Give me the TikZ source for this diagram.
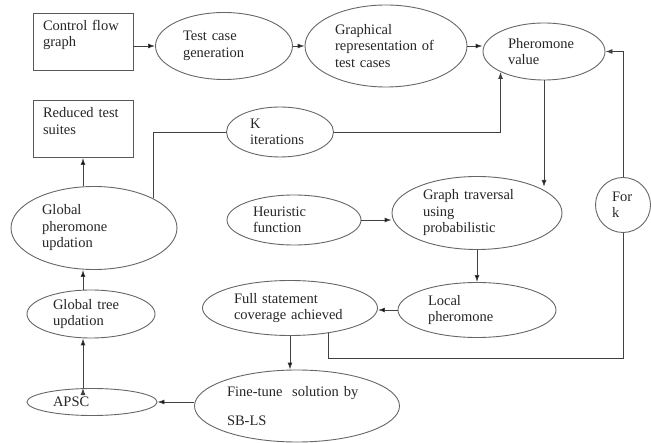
\documentclass[tikz,border=0pt]{standalone}
\usepackage{fontspec}
\setmainfont{Liberation Serif}
\usepackage{tikz}
\usetikzlibrary{arrows.meta,shapes.geometric,calc,positioning}

\begin{document}
\begin{tikzpicture}[x=1pt,y=-1pt,>={Latex[length=7pt,width=5pt]},line width=0.9pt,
	font=\fontsize{14.5}{16.5}\selectfont,text=black!85,
	box/.style={rectangle,draw=black!65,inner xsep=10pt,text width=80pt,minimum height=57pt,align=left},
	oval/.style={ellipse,draw=black!60,inner sep=0pt,align=left},
	wire/.style={draw=black!75}]
			\useasboundingbox (0,0) rectangle (651,443);
			% top row
			\node[box] (cfg) at (83,41.5) {Control flow\\graph\\\mbox{}};
			\node[oval,minimum width=137pt,minimum height=67pt,text width=82pt] (tcg) at (224,46) {Test case\\generation};
			\node[oval,minimum width=162pt,minimum height=82pt,text width=102pt] (gr) at (386,46) {Graphical\\representation of\\test cases};
			\node[oval,minimum width=122pt,minimum height=57pt,text width=72pt] (pv) at (544,51.5) {Pheromone\\value};
			% middle
			\node[box] (rts) at (83,129) {Reduced test\\suites\\\mbox{}};
			\node[oval,minimum width=107pt,minimum height=50pt,text width=60pt] (kit) at (280,132) {K\\iterations};
			\node[oval,minimum width=166pt,minimum height=83pt,text width=104pt] (gpu) at (94,228) {Global\\pheromone\\updation};
			\node[oval,minimum width=134pt,minimum height=50pt,text width=82pt] (hf) at (294,220) {Heuristic\\function};
			\node[oval,minimum width=170pt,minimum height=73pt,text width=108pt] (gt) at (477,213) {Graph traversal\\using\\probabilistic};
			\node[circle,draw=black!60,minimum size=55pt,inner sep=0pt,text width=22pt,align=left] (fork) at (623,205) {For\\k};
			% bottom
			\node[oval,minimum width=128pt,minimum height=48pt,text width=76pt] (gtu) at (91,314) {Global tree\\updation};
			\node[oval,minimum width=175pt,minimum height=55pt,text width=112pt] (fsca) at (290,308) {Full statement\\coverage achieved};
			\node[oval,minimum width=158pt,minimum height=55pt,text width=98pt] (lp) at (477,310) {Local\\pheromone};
			\node[oval,minimum width=130pt,minimum height=27pt,text width=78pt] (apsc) at (92,402) {APSC};
			\node[oval,minimum width=205pt,minimum height=72pt,text width=140pt] (ft) at (297,406) {Fine-tune\ \ solution by\\[12.5pt]SB-LS};

			\path[wire,->]
			(cfg.east |- tcg) edge (tcg)
			(tcg) edge (gr)
			(gr.east) edge (pv.west |- gr.east)
			(gt) edge (lp)
			(hf.east) edge (hf.east -| gt.west)
			(lp.west) edge (lp.west -| fsca.east)
			(fsca.south) edge (fsca.south |- ft.north)
			(ft.west |- apsc.east) edge (apsc.east)
			(pv.south) edge (gt.north east -| pv.south)
			(rts.south |- gpu.north) edge (rts.south)
			(rts.south |- gtu.north) edge (rts.south |- gpu.south)
			(rts.south |- apsc.north) edge (rts.south |- gtu.south);
			\draw[wire,->] (kit.east) -| (pv.south west);
			\draw[wire] (gpu.north east) |- (kit.west);
			\draw[wire] (fsca.-33) -- ++(0,25) -| (fork.south);
			\draw[wire,->] (fork.north) |- (pv.east);
		\end{tikzpicture}
\end{document}
